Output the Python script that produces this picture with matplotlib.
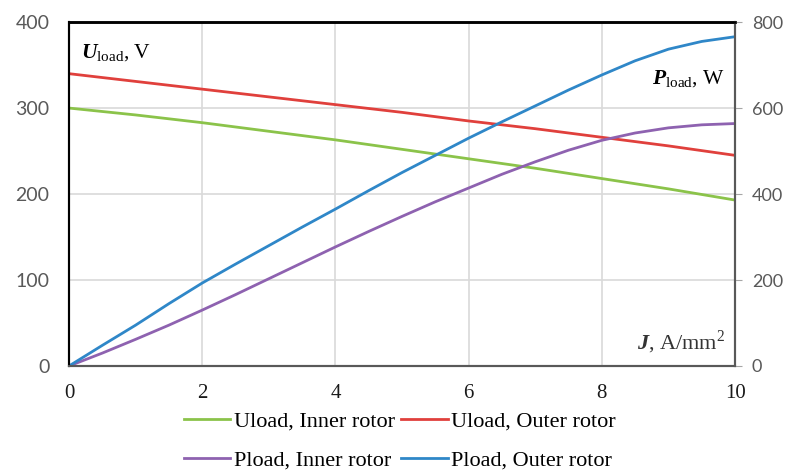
import matplotlib.pyplot as plt

# current density J, A/mm2
j = [0, 0.5, 1, 1.5, 2, 2.5, 3, 3.5, 4, 4.5, 5, 5.5, 6, 6.5, 7, 7.5, 8, 8.5, 9, 9.5, 10]

# load voltage, V (left axis)
u_inner = [300, 296, 292, 287.5, 283, 278, 273, 268, 263, 257.5, 252,
           246.5, 241, 235.5, 230, 224, 218, 212, 206, 199.5, 193]
u_outer = [340, 335.5, 331, 326.5, 322, 317.5, 313, 308.5, 304, 299.5, 295,
           290, 285, 280.5, 276, 271, 266, 261, 256, 250.5, 245]

# load power, W (right axis)
p_inner = [0, 30, 62, 95, 130, 166, 203, 240, 277, 313, 348,
           382, 414, 446, 475, 502, 525, 542, 554, 561, 564]
p_outer = [0, 48, 95, 145, 193, 237, 280, 323, 365, 408, 450,
           490, 530, 568, 605, 642, 677, 710, 737, 755, 766]

c_green = '#8bc34a'
c_red = '#e0403c'
c_purple = '#8e62b0'
c_blue = '#2f87c8'
gray = '#595959'

plt.rcParams['mathtext.fontset'] = 'custom'
plt.rcParams['mathtext.rm'] = 'Liberation Serif'
plt.rcParams['mathtext.bf'] = 'Liberation Serif:bold:italic'

fig = plt.figure(figsize=(7.87, 4.70), dpi=100)
ax = fig.add_axes([0.0877, 0.2213, 0.8463, 0.7317])
ax2 = ax.twinx()

l1, = ax.plot(j, u_inner, color=c_green, lw=2, label='Uload, Inner rotor')
l2, = ax.plot(j, u_outer, color=c_red, lw=2, label='Uload, Outer rotor')
l3, = ax2.plot(j, p_inner, color=c_purple, lw=2, label='Pload, Inner rotor')
l4, = ax2.plot(j, p_outer, color=c_blue, lw=2, label='Pload, Outer rotor')

ax.set_xlim(0, 10)
ax.set_ylim(0, 400)
ax2.set_ylim(0, 800)
ax.set_xticks(range(0, 11, 2))
ax.set_yticks(range(0, 401, 100))
ax2.set_yticks(range(0, 801, 200))

ax.grid(True, color='#d9d9d9', lw=1.2)
ax.set_axisbelow(True)

for a in (ax, ax2):
    a.spines['left'].set_color('black')
    a.spines['top'].set_color('black')
    a.spines['left'].set_linewidth(1.5)
    a.spines['top'].set_linewidth(1.8)
    a.spines['right'].set_color(gray)
    a.spines['bottom'].set_color(gray)
    a.spines['right'].set_linewidth(1.5)
    a.spines['bottom'].set_linewidth(1.5)

ax.tick_params(axis='x', length=0, pad=13, labelsize=15, labelcolor='#1a1a1a')
ax.tick_params(axis='y', length=0, pad=14, labelsize=14, labelcolor=gray)
ax2.tick_params(axis='y', length=5, color='#a6a6a6', pad=7, labelsize=13, labelcolor=gray)
for t in ax.get_xticklabels():
    t.set_fontfamily('Liberation Serif')
for t in ax.get_yticklabels() + ax2.get_yticklabels():
    t.set_fontfamily('Lato')

ax.text(0.018, 0.94, r'$\mathbf{U}_{\mathrm{load}}$, V', transform=ax.transAxes,
        fontsize=15.5, family='Liberation Serif', va='top', ha='left')
ax.text(0.985, 0.865, r'$\mathbf{P}_{\mathrm{load}}$, W', transform=ax.transAxes,
        fontsize=15.5, family='Liberation Serif', va='top', ha='right')
ax.text(0.985, 0.03, r'$\mathbf{J}$, A/mm$^{2}$', transform=ax.transAxes,
        fontsize=16, family='Liberation Serif', va='bottom', ha='right', color='#333333')

fig.legend([l1, l3, l2, l4], [l.get_label() for l in (l1, l3, l2, l4)],
           ncol=2, loc='center', bbox_to_anchor=(0.508, 0.062), frameon=False,
           prop={'family': 'Liberation Serif', 'size': 16}, handlelength=2.1,
           handletextpad=0.15, columnspacing=0.3, labelspacing=0.85,
           borderpad=0.2)

fig.savefig('out.png', dpi=100)
